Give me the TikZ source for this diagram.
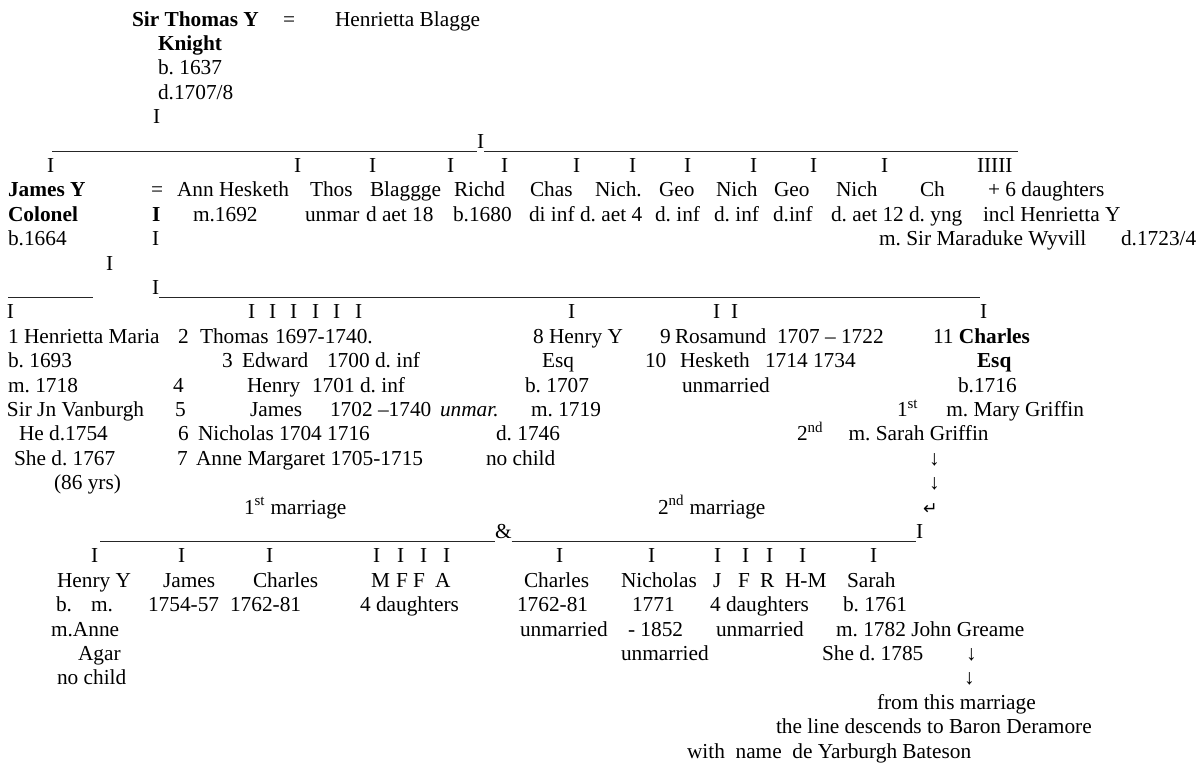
\documentclass[tikz,border=0pt]{standalone}
\usepackage{fontspec}
\setmainfont{Liberation Serif}
\newfontfamily\djv{DejaVu Sans}
\newcommand{\Lbl}[5][]{\node[tx,#1] (#2) at (#3,{26+24.4*(#4-1)}) {#5};}
\newcommand{\uly}[1]{{29+24.4*(#1-1)}}
\frenchspacing
\begin{document}
\begin{tikzpicture}[x=0.75pt,y=-0.75pt,
  tx/.style={anchor=base west,inner sep=0pt,outer sep=0pt,font=\fontsize{16}{19}\selectfont\frenchspacing},
  ul/.style={line width=0.6pt,black!85}]
\fill[white] (0,0) rectangle (1200,765);
\useasboundingbox (0,0) rectangle (1200,765);
% generation 1
\Lbl{st}{132}{1}{\textbf{Sir Thomas Y}}
\Lbl{eqa}{283}{1}{=}
\Lbl{hbl}{335}{1}{Henrietta Blagge}
\Lbl{kn}{158}{2}{\textbf{Knight}}
\Lbl{bst}{158}{3}{b. 1637}
\Lbl{dst}{158}{4}{d.1707/8}
\Lbl{va}{153}{5}{I}
\Lbl{vb}{477}{6}{I}
\coordinate (u6a) at (52,\uly{6});
\coordinate (u6b) at (1018,\uly{6});
\draw[ul] (u6a) -- (u6a -| vb.west);
\draw[ul] (u6a -| vb.east) -- (u6b);
% row 7
\Lbl{c1}{47}{7}{I}
\Lbl{c2}{294}{7}{I}
\Lbl{c3}{369}{7}{I}
\Lbl{c4}{447}{7}{I}
\Lbl{c5}{501}{7}{I}
\Lbl{c6}{573}{7}{I}
\Lbl{c7}{629}{7}{I}
\Lbl{c8}{684}{7}{I}
\Lbl{c9}{750}{7}{I}
\Lbl{c10}{810}{7}{I}
\Lbl{c11}{881}{7}{I}
\Lbl{c12}{977}{7}{IIIII}
% row 8
\Lbl{jy}{8}{8}{\textbf{James Y}}
\Lbl{eqb}{151}{8}{=}
\Lbl{ahk}{177}{8}{Ann Hesketh}
\Lbl{tho}{310}{8}{Thos}
\Lbl{blg}{370}{8}{Blaggge}
\Lbl{ric}{454}{8}{Richd}
\Lbl{chs}{530}{8}{Chas}
\Lbl{nia}{595}{8}{Nich.}
\Lbl{gea}{659}{8}{Geo}
\Lbl{nib}{716}{8}{Nich}
\Lbl{geb}{774}{8}{Geo}
\Lbl{nic}{836}{8}{Nich}
\Lbl{chh}{920}{8}{Ch}
\Lbl{sixd}{988}{8}{+ 6 daughters}
% row 9
\Lbl{col}{8}{9}{\textbf{Colonel}}
\Lbl{ib}{152}{9}{\textbf{I}}
\Lbl{mar}{193}{9}{m.1692}
\Lbl{unma}{305}{9}{unmar}
\Lbl{dae}{366}{9}{d aet 18}
\Lbl{bei}{453}{9}{b.1680}
\Lbl{dii}{529}{9}{di inf}
\Lbl{daf}{580}{9}{d. aet 4}
\Lbl{dia}{655}{9}{d. inf}
\Lbl{dib}{714}{9}{d. inf}
\Lbl{dic}{773}{9}{d.inf}
\Lbl{dat}{831}{9}{d. aet 12}
\Lbl{dyn}{909}{9}{d. yng}
\Lbl{inc}{983}{9}{incl Henrietta Y}
% row 10
\Lbl{bjy}{8}{10}{b.1664}
\Lbl{ic}{152}{10}{I}
\Lbl{msw}{879}{10}{m. Sir Maraduke Wyvill}
\Lbl{dwy}{1121}{10}{d.1723/4}
% row 11-12
\Lbl{vl}{106}{11}{I}
\coordinate (u12a) at (8,\uly{12});
\coordinate (u12b) at (93,\uly{12});
\draw[ul] (u12a) -- (u12b);
\Lbl{vc}{152}{12}{I}
\coordinate (u12c) at (980,\uly{12});
\draw[ul] (u12a -| vc.east) -- (u12c);
% row 13
\Lbl{g1}{7}{13}{I}
\Lbl{g2}{248}{13}{I}
\Lbl{g3}{269}{13}{I}
\Lbl{g4}{290}{13}{I}
\Lbl{g5}{312}{13}{I}
\Lbl{g6}{333}{13}{I}
\Lbl{g7}{355}{13}{I}
\Lbl{g8}{568}{13}{I}
\Lbl{g9}{713}{13}{I}
\Lbl{g10}{731}{13}{I}
\Lbl{g11}{980}{13}{I}
% row 14
\Lbl{hm}{8}{14}{1 Henrietta Maria}
\Lbl{ntwo}{178}{14}{2}
\Lbl{thm}{200}{14}{Thomas}
\Lbl{thmd}{275}{14}{1697-1740.}
\Lbl{hy}{533}{14}{8 Henry Y}
\Lbl{nnine}{660}{14}{9}
\Lbl{ros}{675}{14}{Rosamund}
\Lbl{rosd}{777}{14}{1707 -- 1722}
\Lbl{chq}{933}{14}{11 \textbf{Charles}}
% row 15
\Lbl{bhm}{8}{15}{b. 1693}
\Lbl{nthree}{222}{15}{3}
\Lbl{edw}{242}{15}{Edward}
\Lbl{edwd}{327}{15}{1700 d. inf}
\Lbl{esqa}{542}{15}{Esq}
\Lbl{nten}{645}{15}{10}
\Lbl{hes}{680}{15}{Hesketh}
\Lbl{hesd}{765}{15}{1714 1734}
\Lbl{esqb}{977}{15}{\textbf{Esq}}
% row 16
\Lbl{mhm}{8}{16}{m. 1718}
\Lbl{nfour}{173}{16}{4}
\Lbl{hen}{247}{16}{Henry}
\Lbl{hend}{312}{16}{1701 d. inf}
\Lbl{bhy}{525}{16}{b. 1707}
\Lbl{unmb}{682}{16}{unmarried}
\Lbl{bch}{958}{16}{b.1716}
% row 17
\Lbl{sjv}{7}{17}{Sir Jn Vanburgh}
\Lbl{nfive}{175}{17}{5}
\Lbl{jam}{250}{17}{James}
\Lbl{jamd}{330}{17}{1702 --1740}
\Lbl{jamu}{440}{17}{\textit{unmar.}}
\Lbl{mhy}{531}{17}{m. 1719}
\Lbl{mmg}{897}{17}{1\textsuperscript{st}\hspace{21pt}m. Mary Griffin}
% row 18
\Lbl{hed}{19}{18}{He d.1754}
\Lbl{nsix}{178}{18}{6}
\Lbl{nch}{198}{18}{Nicholas 1704 1716}
\Lbl{dhy}{496}{18}{d. 1746}
\Lbl{msg}{797}{18}{2\textsuperscript{nd}\hspace{19pt}m. Sarah Griffin}
% row 19
\Lbl{shd}{14}{19}{She d. 1767}
\Lbl{nseven}{177}{19}{7}
\Lbl{anm}{196}{19}{Anne Margaret 1705-1715}
\Lbl{nchy}{486}{19}{no child}
\Lbl{ara}{929}{19}{↓}
% row 20
\Lbl{yrs}{54}{20}{(86 yrs)}
\Lbl{arb}{929}{20}{↓}
% row 21
\Lbl{fm}{244}{21}{1\textsuperscript{st} marriage}
\Lbl{sm}{658}{21}{2\textsuperscript{nd} marriage}
\Lbl{arc}{923}{21}{{\djv\fontsize{13}{15}\selectfont ↵}}
% row 22
\coordinate (u22a) at (100,\uly{22});
\Lbl{amp}{495}{22}{\&}
\Lbl{vd}{916}{22}{I}
\draw[ul] (u22a) -- (u22a -| amp.west);
\draw[ul] (u22a -| amp.east) -- (u22a -| vd.west);
% row 23
\Lbl{h1}{91}{23}{I}
\Lbl{h2}{178}{23}{I}
\Lbl{h3}{266}{23}{I}
\Lbl{h4}{373}{23}{I}
\Lbl{h5}{397}{23}{I}
\Lbl{h6}{420}{23}{I}
\Lbl{h7}{443}{23}{I}
\Lbl{h8}{556}{23}{I}
\Lbl{h9}{648}{23}{I}
\Lbl{h10}{714}{23}{I}
\Lbl{h11}{742}{23}{I}
\Lbl{h12}{766}{23}{I}
\Lbl{h13}{799}{23}{I}
\Lbl{h14}{870}{23}{I}
% row 24
\Lbl{ky1}{57}{24}{Henry Y}
\Lbl{ky2}{163}{24}{James}
\Lbl{ky3}{253}{24}{Charles}
\Lbl{kdm}{371}{24}{M}
\Lbl{kdf}{396}{24}{F}
\Lbl{kdg}{413}{24}{F}
\Lbl{kda}{435}{24}{A}
\Lbl{ky4}{524}{24}{Charles}
\Lbl{ky5}{621}{24}{Nicholas}
\Lbl{kdj}{713}{24}{J}
\Lbl{kdk}{738}{24}{F}
\Lbl{kdr}{760}{24}{R}
\Lbl{kdh}{785}{24}{H-M}
\Lbl{ky6}{847}{24}{Sarah}
% row 25
\Lbl{la}{56}{25}{b.}
\Lbl{lb}{91}{25}{m.}
\Lbl{lc}{148}{25}{1754-57}
\Lbl{ld}{230}{25}{1762-81}
\Lbl{le}{360}{25}{4 daughters}
\Lbl{lf}{517}{25}{1762-81}
\Lbl{lg}{632}{25}{1771}
\Lbl{lh}{710}{25}{4 daughters}
\Lbl{li}{843}{25}{b. 1761}
% row 26
\Lbl{ma}{51}{26}{m.Anne}
\Lbl{mb}{520}{26}{unmarried}
\Lbl{mc}{628}{26}{- 1852}
\Lbl{md}{716}{26}{unmarried}
\Lbl{me}{836}{26}{m. 1782 John Greame}
% row 27
\Lbl{na}{78}{27}{Agar}
\Lbl{nb}{621}{27}{unmarried}
\Lbl{nc}{822}{27}{She d. 1785}
\Lbl{ard}{966}{27}{↓}
% row 28
\Lbl{oa}{57}{28}{no child}
\Lbl{are}{964}{28}{↓}
% rows 29-31
\Lbl{pa}{877}{29}{from this marriage}
\Lbl{pb}{776}{30}{the line descends to Baron Deramore}
\Lbl{pc}{687}{31}{with\ \ name\ \ de Yarburgh Bateson}
\end{tikzpicture}
\end{document}
